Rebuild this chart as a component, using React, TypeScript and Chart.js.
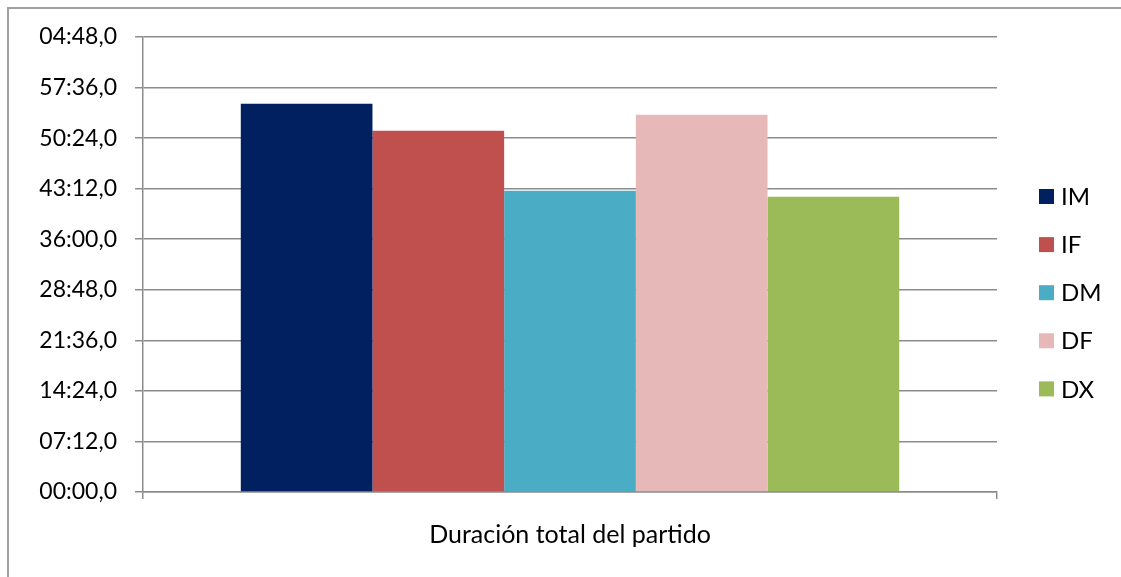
import React, { useEffect, useRef } from "react";
import { Chart, registerables } from "chart.js";

Chart.register(...registerables);

const categories = ["Duración total del partido"];
const seriesNames = ["IM", "IF", "DM", "DF", "DX"];
// durations in seconds
const seriesSeconds = [3318, 3087, 2575, 3224, 2523];
const seriesColors = ["#002060", "#C0504D", "#4BACC6", "#E6B9B8", "#9BBB59"];
const yTickLabels = [
  "00:00,0",
  "07:12,0",
  "14:24,0",
  "21:36,0",
  "28:48,0",
  "36:00,0",
  "43:12,0",
  "50:24,0",
  "57:36,0",
  "04:48,0",
];
const yStepSec = 432;
const yMaxSec = 3888;

const FONT = "Lato, 'Open Sans', sans-serif";
const GRID = "#8c8c8c";

const framePlugin = {
  id: "frame",
  beforeDraw(chart: any) {
    const ctx = chart.ctx;
    ctx.save();
    ctx.fillStyle = "#ffffff";
    ctx.fillRect(0, 0, chart.width, chart.height);
    ctx.strokeStyle = "#a0a0a0";
    ctx.lineWidth = 2;
    ctx.strokeRect(8, 8, 1300, 1300);
    ctx.restore();
  },
};

const legendPlugin = {
  id: "customLegend",
  afterDraw(chart: any) {
    const ctx = chart.ctx;
    const ds = chart.data.datasets;
    const x0 = 1039;
    const yCenter0 = 196.5;
    const gap = 48.1;
    const box = 15;
    ctx.save();
    ctx.font = `24px ${FONT}`;
    ctx.textBaseline = "alphabetic";
    ctx.textAlign = "left";
    ds.forEach((d: any, i: number) => {
      const cy = yCenter0 + i * gap;
      ctx.fillStyle = d.backgroundColor;
      ctx.fillRect(x0, cy - box / 2, box, box);
      ctx.fillStyle = "#000000";
      ctx.fillText(d.label, x0 + 22, cy + 8.6);
    });
    ctx.restore();
  },
};

export default function App() {
  const ref = useRef<HTMLCanvasElement | null>(null);

  useEffect(() => {
    if (!ref.current) return;
    const chart = new Chart(ref.current, {
      type: "bar",
      data: {
        labels: categories,
        datasets: seriesNames.map((name, i) => ({
          label: name,
          data: [seriesSeconds[i]],
          backgroundColor: seriesColors[i],
          borderWidth: 0,
          categoryPercentage: 0.771,
          barPercentage: 1,
        })),
      },
      options: {
        responsive: false,
        maintainAspectRatio: false,
        animation: false,
        layout: { padding: { top: 37, right: 124, left: 0, bottom: 0 } },
        plugins: {
          legend: { display: false },
          tooltip: { enabled: false },
        },
        scales: {
          x: {
            grid: {
              display: true,
              drawOnChartArea: false,
              drawTicks: true,
              tickLength: 7,
              offset: true,
              color: GRID,
              lineWidth: 1.5,
            },
            border: { display: true, color: GRID, width: 1.5 },
            ticks: {
              font: { family: FONT, size: 25 },
              color: "#000000",
              padding: 21,
            },
            afterFit: (s: any) => {
              s.height = 85;
            },
          },
          y: {
            min: 0,
            max: yMaxSec,
            ticks: {
              stepSize: yStepSec,
              callback: (_v: any, i: number) => yTickLabels[i],
              font: { family: FONT, size: 23 },
              color: "#000000",
              padding: 18,
            },
            grid: { color: GRID, lineWidth: 1.5, tickLength: 8 },
            border: { display: true, color: GRID, width: 1.5 },
            afterFit: (s: any) => {
              s.width = 143;
            },
          },
        },
      },
      plugins: [framePlugin, legendPlugin],
    });
    return () => chart.destroy();
  }, []);

  return (
    <div style={{ position: "absolute", left: 0, top: 0, width: 1121, height: 577 }}>
      <canvas ref={ref} width={1121} height={577} />
    </div>
  );
}
